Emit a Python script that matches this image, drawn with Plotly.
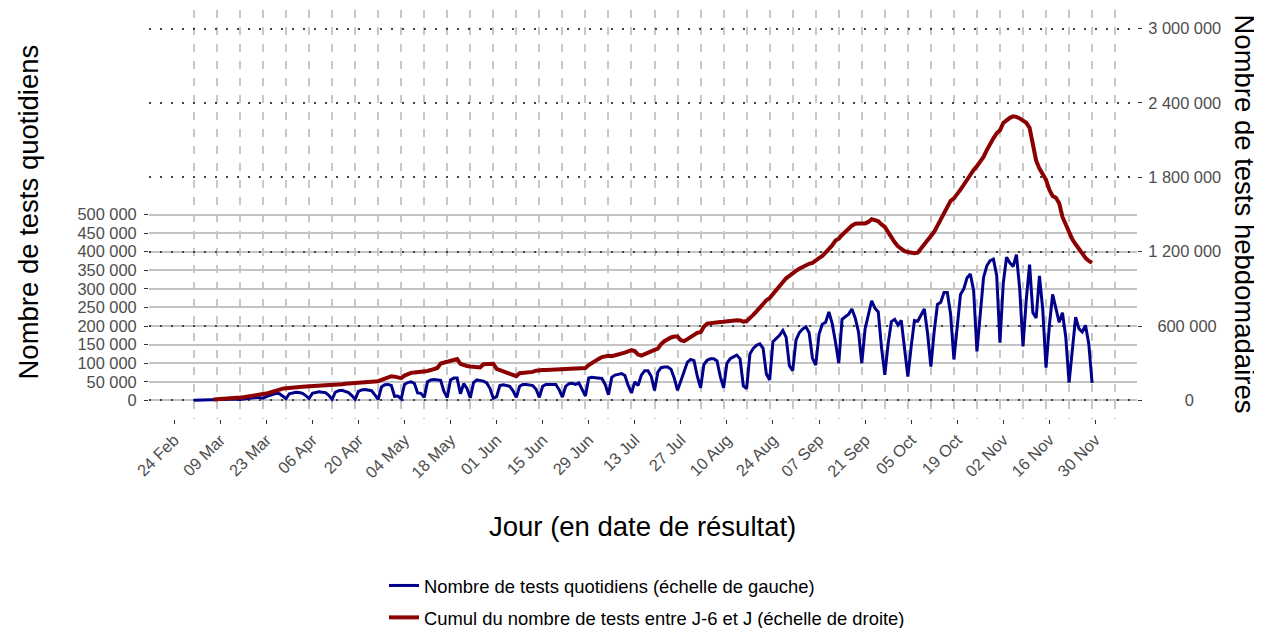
import pandas as pd
import plotly.graph_objects as go

# ---------------- data ----------------
# Daily number of tests, in thousands, one row per week (Sunday .. Saturday),
# first value = Sunday 1 March 2020
daily_tests_k = [
    0.5, 0.8, 1.0, 1.2, 1.5, 1.7, 1.5,
    1.5, 2.0, 2.5, 3.0, 3.5, 4.0, 3.5,
    2.5, 4.0, 5.0, 6.0, 7.0, 8.0, 7.5,
    6, 10, 13, 16, 19, 18, 12,
    5, 18, 21, 22, 21, 19, 13,
    5, 19, 22, 23, 22, 21, 14,
    3, 22, 26, 27, 25, 21, 13,
    3, 24, 28, 29, 28, 26, 15,
    3, 36, 42, 43, 40, 11, 12,
    4, 43, 48, 50, 46, 20, 19,
    8, 50, 55, 56, 56, 54, 24,
    8, 55, 60, 60, 18, 45, 32,
    7, 48, 55, 54, 52, 47, 32,
    6, 10, 40, 42, 40, 38, 26,
    8, 38, 43, 43, 42, 40, 30,
    8, 38, 43, 43, 42, 43, 29,
    9, 38, 45, 46, 43, 47, 30,
    12, 60, 62, 61, 61, 59, 43,
    15, 62, 68, 70, 72, 67, 40,
    20, 50, 40, 68, 80, 80, 65,
    27, 76, 88, 90, 90, 84, 60,
    27, 55, 78, 103, 110, 107, 65,
    34, 96, 108, 112, 112, 106, 64,
    34, 100, 112, 117, 122, 112, 39,
    32, 125, 140, 148, 152, 140, 71,
    55, 158, 166, 175, 188, 170, 93,
    80, 162, 182, 192, 198, 182, 114,
    95, 178, 205, 210, 238, 207, 157,
    100, 218, 226, 232, 246, 222, 184,
    100, 192, 232, 268, 248, 238, 142,
    69, 152, 212, 218, 203, 215, 136,
    64, 144, 215, 213, 228, 246, 180,
    91, 185, 258, 264, 290, 290, 232,
    110, 200, 285, 300, 330, 340, 295,
    132, 238, 330, 362, 376, 380, 337,
    155, 315, 385, 370, 360, 392, 300,
    145, 272, 365, 236, 222, 335, 245,
    88, 200, 285, 245, 210, 236, 170,
    48, 135, 224, 193, 184, 202, 152,
    47,
]
daily_start = "2020-03-01"

# 7-day cumulative number of tests (J-6 .. J), in thousands,
# first value = Saturday 7 March 2020, then weeks Sunday .. Saturday
weekly_tests_k = [
    8,
    9, 10, 12, 14, 16, 18, 21,
    23, 26, 29, 33, 36, 40, 44,
    48, 55, 62, 72, 82, 90, 95,
    98, 102, 104, 106, 108, 110, 112,
    113, 115, 117, 119, 120, 121, 123,
    125, 124, 127, 130, 134, 137, 140,
    142, 145, 147, 149, 151, 152, 153,
    155, 165, 175, 188, 195, 192, 190,
    180, 200, 215, 222, 226, 228, 230,
    232, 238, 245, 252, 262, 298, 305,
    315, 322, 330, 334, 295, 285, 278,
    274, 270, 267, 266, 292, 295, 296,
    296, 255, 245, 232, 220, 210, 202,
    196, 220, 222, 225, 228, 230, 240,
    246, 245, 246, 247, 247, 248, 248,
    249, 250, 252, 253, 253, 255, 258,
    262, 285, 305, 322, 335, 350, 358,
    360, 356, 362, 370, 378, 385, 395,
    405, 398, 370, 362, 375, 390, 402,
    408, 418, 455, 478, 498, 508, 515,
    515, 485, 478, 495, 515, 530, 545,
    550, 595, 620, 625, 628, 630, 632,
    634, 638, 640, 644, 646, 645, 636,
    640, 662, 690, 718, 748, 780, 808,
    826, 860, 890, 920, 955, 985, 1005,
    1028, 1045, 1062, 1078, 1090, 1102, 1110,
    1125, 1148, 1165, 1190, 1215, 1250, 1290,
    1305, 1335, 1365, 1385, 1410, 1425, 1428,
    1430, 1428, 1440, 1462, 1455, 1445, 1420,
    1400, 1358, 1310, 1275, 1243, 1220, 1205,
    1198, 1190, 1188, 1192, 1225, 1255, 1290,
    1315, 1360, 1410, 1460, 1515, 1565, 1610,
    1630, 1660, 1700, 1740, 1785, 1825, 1860,
    1890, 1925, 1965, 2020, 2075, 2115, 2155,
    2180, 2238, 2260, 2280, 2292, 2288, 2275,
    2262, 2240, 2200, 2070, 1935, 1870, 1820,
    1780, 1700, 1650, 1636, 1590, 1480, 1420,
    1375, 1300, 1260, 1225, 1180, 1150, 1125,
    1110,
]
weekly_start = "2020-03-07"

# axis ticks
left_ticks = [0, 50000, 100000, 150000, 200000, 250000,
              300000, 350000, 400000, 450000, 500000]
right_ticks = [0, 600000, 1200000, 1800000, 2400000, 3000000]
x_tick_dates = pd.date_range("2020-02-24", "2020-11-30", freq="14D")
x_grid_dates = pd.date_range("2020-03-01", "2020-12-06", freq="7D")

name_daily = "Nombre de tests quotidiens (échelle de gauche)"
name_weekly = "Cumul du nombre de tests entre J-6 et J (échelle de droite)"

# ---------------- derived series ----------------
daily_dates = pd.date_range(daily_start, periods=len(daily_tests_k), freq="D")
daily_tests = [v * 1000 for v in daily_tests_k]
weekly_dates = pd.date_range(weekly_start, periods=len(weekly_tests_k), freq="D")
weekly_tests = [v * 1000 for v in weekly_tests_k]


def fmt(v):
    return f"{v:,}".replace(",", " ")


# The page body has an 8 px margin: the figure is drawn 8 px in from the
# window's top-left corner, so the figure is made 8 px smaller and every
# window position below is given in window pixels.
BODY = 8
WIN_W, WIN_H = 1262, 628
FIG_W, FIG_H = WIN_W - BODY, WIN_H - BODY
# plot panel in window pixels
PL, PR, PT, PB = 149, 1137, 10, 419
PW, PH = PR - PL, PB - PT


def px_x(px):
    return (px - PL) / PW


def px_y(py):
    return (PB - py) / PH


FONT = "Liberation Sans, Arial, Helvetica, sans-serif"
TICK_COLOR = "#4d4d4d"

# x range: data span with 5 % expansion on both sides
span = daily_dates[-1] - daily_dates[0]
x_range = [daily_dates[0] - span * 0.05, daily_dates[-1] + span * 0.05]

# right-axis labels centred like the reference (pad with figure spaces)
right_text = [fmt(v) for v in right_ticks]
max_len = max(len(t) for t in right_text)
right_text = ["\u2007" * ((max_len - len(t)) // 2) + t for t in right_text]

fig = go.Figure()
fig.add_trace(go.Scatter(
    x=daily_dates, y=daily_tests, mode="lines", name=name_daily,
    line=dict(color="#00008B", width=3), yaxis="y", legendgroup="daily",
    hoverinfo="skip",
))
fig.add_trace(go.Scatter(
    x=weekly_dates, y=weekly_tests, mode="lines", name=name_weekly,
    line=dict(color="#8B0000", width=4), yaxis="y2", legendgroup="weekly",
    hoverinfo="skip",
))

fig.update_layout(
    width=FIG_W, height=FIG_H,
    margin=dict(l=PL - BODY, r=WIN_W - PR, t=PT - BODY, b=WIN_H - PB, pad=0,
                autoexpand=False),
    paper_bgcolor="white", plot_bgcolor="white",
    font=dict(family=FONT, color="#000000"),
    showlegend=True,
    legend=dict(
        orientation="v", x=px_x(384), xanchor="left",
        y=px_y(567), yanchor="top",
        font=dict(size=18.4, color="#000000", family=FONT),
        tracegroupgap=5, bgcolor="rgba(0,0,0,0)", itemwidth=30,
    ),
    xaxis=dict(
        type="date", range=x_range, automargin=False,
        tickmode="array", tickvals=list(x_tick_dates),
        ticktext=[d.strftime("%d %b") for d in x_tick_dates],
        tickangle=-45, tickfont=dict(size=16.4, color=TICK_COLOR, family=FONT),
        ticks="outside", ticklen=4, tickwidth=1, tickcolor="#333333",
        showgrid=False, zeroline=False, showline=False,
        minor=dict(
            tickmode="array", tickvals=list(x_grid_dates),
            showgrid=True, gridcolor="#c8c8c8", gridwidth=1.5,
            griddash="8px,9px", ticks="",
        ),
    ),
    yaxis=dict(
        range=[-50000, 1050000], automargin=False,
        tickmode="array", tickvals=left_ticks,
        ticktext=[fmt(v) for v in left_ticks],
        tickfont=dict(size=16.4, color=TICK_COLOR, family=FONT),
        ticks="outside", ticklen=4, tickwidth=1, tickcolor="#333333",
        ticklabelstandoff=4,
        showgrid=True, gridcolor="#c4c4c4", gridwidth=1.6,
        zeroline=False, showline=False,
    ),
    yaxis2=dict(
        overlaying="y", side="right", automargin=False,
        range=[-150000, 3150000],
        tickmode="array", tickvals=right_ticks, ticktext=right_text,
        tickfont=dict(size=16.4, color=TICK_COLOR, family=FONT),
        ticks="outside", ticklen=4, tickwidth=1, tickcolor="#333333",
        ticklabelstandoff=3,
        showgrid=True, gridcolor="#444444", gridwidth=2,
        griddash="2px,9px",
        zeroline=False, showline=False,
    ),
    annotations=[
        dict(text="Nombre de tests quotidiens", xref="paper", yref="paper",
             x=px_x(28), y=px_y(212.5), xanchor="center", yanchor="middle",
             textangle=-90, showarrow=False,
             font=dict(size=27.5, color="#000000", family=FONT)),
        dict(text="Nombre de tests hebdomadaires", xref="paper", yref="paper",
             x=px_x(1244), y=px_y(213.5), xanchor="center", yanchor="middle",
             textangle=90, showarrow=False,
             font=dict(size=27.5, color="#000000", family=FONT)),
        dict(text="Jour (en date de résultat)", xref="paper", yref="paper",
             x=px_x(642), y=px_y(526), xanchor="center", yanchor="middle",
             showarrow=False,
             font=dict(size=27.5, color="#000000", family=FONT)),
    ],
)

fig.write_html("out.html", config={"displayModeBar": False})
